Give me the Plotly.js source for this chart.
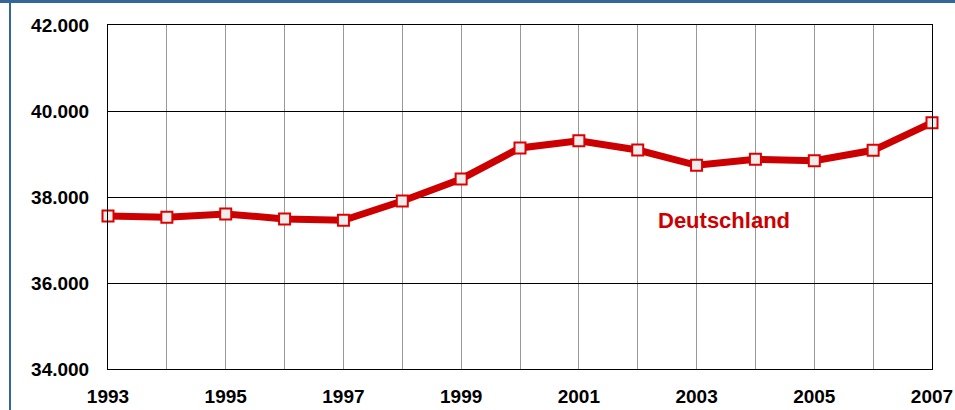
<!DOCTYPE html>
<html>
<head>
<meta charset="utf-8">
<script src="https://cdn.plot.ly/plotly-3.0.1.min.js"></script>
<style>
html,body{margin:0;padding:0;background:#fff;}
#wrap{position:relative;width:955px;height:410px;}
#chart{width:955px;height:410px;}
#bt{position:absolute;left:0;top:0;width:955px;height:3px;background:#336699;}
#bl{position:absolute;left:9px;top:0;width:2px;height:410px;background:#336699;}
</style>
</head>
<body>
<div id="wrap"><div id="chart"></div><div id="bt"></div><div id="bl"></div></div>
<script>
const years = [1993,1994,1995,1996,1997,1998,1999,2000,2001,2002,2003,2004,2005,2006,2007];
const deutschland = [37560,37530,37605,37490,37460,37907,38420,39140,39310,39093,38737,38877,38845,39086,39728];
const seriesName = "Deutschland";
const yTicks = [34000,36000,38000,40000,42000];
const xTicks = [1993,1995,1997,1999,2001,2003,2005,2007];

const trace = {
  x: years, y: deutschland, type: 'scatter', mode: 'lines+markers',
  name: seriesName, cliponaxis: false,
  line: {color: '#cc0000', width: 7},
  marker: {symbol: 'square', size: 11, color: '#eeeeee', line: {color: '#dd0000', width: 2}}
};
const tf = {family: 'Liberation Sans, Arial, sans-serif', size: 19, weight: 'bold', color: '#000'};
const layout = {
  width: 955, height: 410,
  margin: {l: 108, r: 23, t: 25, b: 41},
  paper_bgcolor: '#fff', plot_bgcolor: '#fff',
  separators: ',.',
  showlegend: false,
  font: {family: 'Liberation Sans, Arial, sans-serif', size: 19, color: '#000'},
  xaxis: {
    range: [1993, 2007], tickvals: xTicks, ticktext: xTicks.map(String),
    showgrid: true, gridcolor: '#999999', gridwidth: 1,
    minor: {dtick: 1, tick0: 1993, showgrid: true, gridcolor: '#999999', gridwidth: 1},
    showline: true, linecolor: '#000', linewidth: 1, mirror: true,
    ticks: '', ticklabelstandoff: 10,
    tickfont: tf,
    zeroline: false, fixedrange: true
  },
  yaxis: {
    range: [34000, 42000], tickvals: yTicks, tickformat: ',.0f',
    showgrid: true, gridcolor: '#000000', gridwidth: 1,
    showline: true, linecolor: '#000', linewidth: 1, mirror: true,
    ticks: '', ticklabelstandoff: 14,
    tickfont: tf,
    zeroline: false, fixedrange: true
  },
  annotations: [{
    x: 2003.47, y: 37442, xref: 'x', yref: 'y', text: seriesName, showarrow: false,
    font: {family: 'Liberation Sans, Arial, sans-serif', size: 22, weight: 'bold', color: '#cc0000'}
  }]
};
Plotly.newPlot('chart', [trace], layout, {displayModeBar: false, staticPlot: true});
</script>
</body>
</html>
